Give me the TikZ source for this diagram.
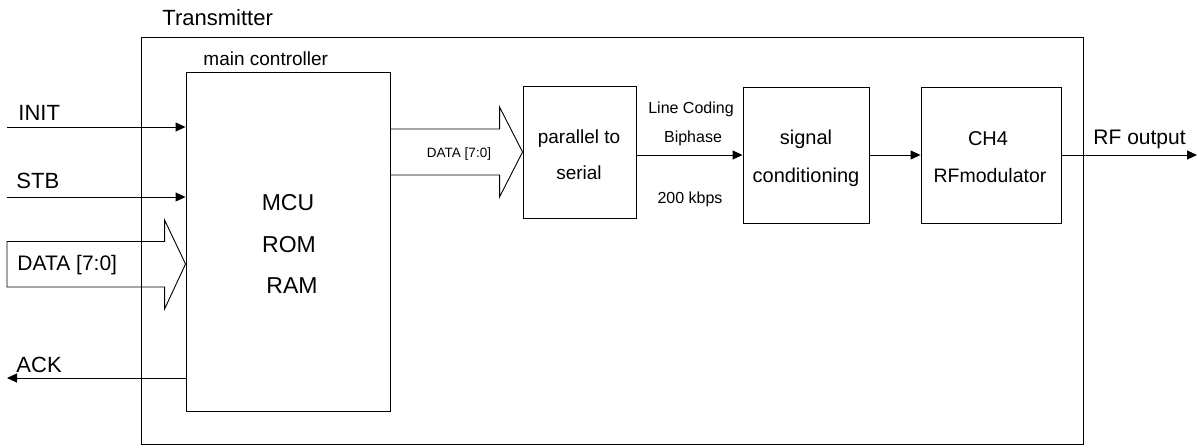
\documentclass[tikz,border=0pt]{standalone}
\usepackage{fontspec}
\setmainfont{Liberation Sans}
\usetikzlibrary{arrows.meta,calc}
\begin{document}
\begin{tikzpicture}[x=1pt,y=-1pt,line width=0.9pt,
  blk/.style={draw,inner sep=0pt},
  arr/.style={-{Triangle[length=10pt,width=9pt]}},
  big/.style={inner sep=0pt,font=\fontsize{22}{26}\selectfont},
  mid/.style={inner sep=0pt,font=\fontsize{20}{24}\selectfont},
  sml/.style={inner sep=0pt,font=\fontsize{19}{22}\selectfont},
  tiny/.style={inner sep=0pt,font=\fontsize{16}{19}\selectfont}]
\useasboundingbox (0,0) rectangle (1198,447);
% boxes
\node[blk,minimum width=942pt,minimum height=407pt] (tx) at (612,240.5) {};
\node[blk,minimum width=204pt,minimum height=339pt] (mc) at (288,241.5) {};
\node[blk,minimum width=113pt,minimum height=132pt] (ps) at (579.5,152) {};
\node[blk,minimum width=126pt,minimum height=136pt] (sc) at (806,155) {};
\node[blk,minimum width=140pt,minimum height=136pt] (ch) at (991,155) {};
% titles
\node[big,anchor=base west] (txl) at (162,25) {Transmitter};
\node[sml,anchor=base west] (mcl) at (203,65) {main controller};
% block texts
\node[big,font=\fontsize{23}{27}\selectfont,anchor=base] (mcu) at (288,210) {MCU};
\node[big,font=\fontsize{23}{27}\selectfont,anchor=base] (rom) at (289,252) {ROM};
\node[big,font=\fontsize{23}{27}\selectfont,anchor=base] (ram) at (292,293) {RAM};
\node[mid,font=\fontsize{19}{22}\selectfont,anchor=base] (ps1) at (579,143) {parallel to};
\node[mid,font=\fontsize{19}{22}\selectfont,anchor=base] (ps2) at (579,179) {serial};
\node[mid,anchor=base] (sc1) at (806,144) {signal};
\node[mid,anchor=base] (sc2) at (806,182) {conditioning};
\node[mid,anchor=base] (ch1) at (988,145) {CH4};
\node[mid,font=\fontsize{19.5}{23}\selectfont,anchor=base] (ch2) at (990,182) {RFmodulator};
% link labels
\node[tiny,anchor=base] (lc) at (691,113) {Line Coding};
\node[tiny,anchor=base] (bp) at (693,142) {Biphase};
\node[tiny,anchor=base] (kb) at (690,203) {200 kbps};
\node[tiny,font=\fontsize{13.5}{16}\selectfont,anchor=base] (dm) at (459,157) {DATA [7:0]};
\node[big,font=\fontsize{21}{25}\selectfont,anchor=base west] (rfl) at (1093,144) {RF output};
\node[big,anchor=base west] (initl) at (18,120) {INIT};
\node[big,anchor=base west] (stbl) at (16,188) {STB};
\node[mid,font=\fontsize{21}{25}\selectfont,anchor=base west] (datl) at (17,270) {DATA [7:0]};
\node[big,anchor=base west] (ackl) at (16,372) {ACK};
% free ends
\coordinate (initS) at (7,127);
\coordinate (stbS) at (7,197);
\coordinate (ackE) at (7,378);
\coordinate (rfE) at (1197,155);
\coordinate (dtipL) at (mc.west |- 0,264);
% connectors
\draw[arr] (initS) -- (initS -| mc.west);
\draw[arr] (stbS) -- (stbS -| mc.west);
\draw[arr] (ackE -| mc.west) -- (ackE);
\draw[arr] (sc.west -| ps.east) -- (sc.west);
\draw[arr] (sc.east) -- (ch.west);
\draw[arr] (ch.east) -- (rfE);
% hollow bus arrows
\draw (7,241.5) -- ($(dtipL)+(-21,-22.5)$) -- ($(dtipL)+(-21,-44)$) -- (dtipL)
  -- ($(dtipL)+(-21,45)$) -- ($(dtipL)+(-21,23)$) -- (7,287) -- cycle;
\draw (mc.east |- 0,129) -- ($(ps.west)+(-23,-23)$) -- ($(ps.west)+(-23,-45)$) -- (ps.west)
  -- ($(ps.west)+(-23,45)$) -- ($(ps.west)+(-23,23)$) -- (mc.east |- 0,175);
\end{tikzpicture}
\end{document}
